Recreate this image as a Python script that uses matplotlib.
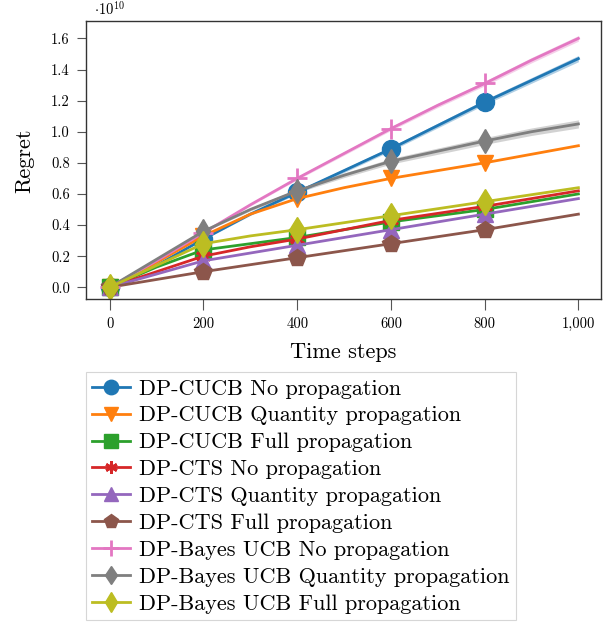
import matplotlib
matplotlib.use('Agg')
import matplotlib.pyplot as plt
import matplotlib.ticker as mticker
import numpy as np

plt.rcParams['font.family'] = 'serif'
plt.rcParams['font.serif'] = ['cmr10', 'DejaVu Serif']
plt.rcParams['mathtext.fontset'] = 'cm'
plt.rcParams['axes.formatter.use_mathtext'] = True

# --- Data (regret in units of 1e10) ---
SCALE = 1e10
steps = [0, 100, 200, 300, 400, 500, 600, 700, 800, 900, 1000]

cucb_no = [0.0, 0.14, 0.31, 0.47, 0.61, 0.75, 0.89, 1.04, 1.19, 1.33, 1.47]
cucb_qty = [0.0, 0.16, 0.33, 0.47, 0.57, 0.64, 0.70, 0.75, 0.80, 0.855, 0.91]
cucb_full = [0.0, 0.13, 0.24, 0.28, 0.32, 0.37, 0.42, 0.46, 0.50, 0.55, 0.60]
cts_no = [0.0, 0.10, 0.20, 0.26, 0.31, 0.37, 0.43, 0.475, 0.52, 0.57, 0.62]
cts_qty = [0.0, 0.085, 0.17, 0.22, 0.27, 0.32, 0.37, 0.42, 0.47, 0.52, 0.57]
cts_full = [0.0, 0.05, 0.10, 0.145, 0.19, 0.235, 0.28, 0.325, 0.37, 0.42, 0.47]
bayes_no = [0.0, 0.17, 0.35, 0.53, 0.70, 0.86, 1.02, 1.17, 1.31, 1.46, 1.60]
bayes_qty = [0.0, 0.18, 0.36, 0.50, 0.62, 0.72, 0.81, 0.875, 0.94, 1.00, 1.05]
bayes_full = [0.0, 0.14, 0.28, 0.33, 0.37, 0.415, 0.46, 0.505, 0.55, 0.595, 0.64]

# half-width of the confidence band (same units)
band_cucb_no = [0.0, 0.0, 0.005, 0.008, 0.01, 0.012, 0.013, 0.015, 0.016, 0.018, 0.02]
band_bayes_no = [0.0, 0.0, 0.005, 0.007, 0.009, 0.011, 0.012, 0.014, 0.015, 0.017, 0.018]
band_bayes_qty = [0.0, 0.0, 0.006, 0.009, 0.012, 0.015, 0.018, 0.02, 0.022, 0.024, 0.026]

labels = [
    "DP-CUCB No propagation",
    "DP-CUCB Quantity propagation",
    "DP-CUCB Full propagation",
    "DP-CTS No propagation",
    "DP-CTS Quantity propagation",
    "DP-CTS Full propagation",
    "DP-Bayes UCB No propagation",
    "DP-Bayes UCB Quantity propagation",
    "DP-Bayes UCB Full propagation",
]
series = [cucb_no, cucb_qty, cucb_full, cts_no, cts_qty, cts_full,
          bayes_no, bayes_qty, bayes_full]
bands = {0: band_cucb_no, 6: band_bayes_no, 7: band_bayes_qty}

colors = ['#1f77b4', '#ff7f0e', '#2ca02c', '#d62728', '#9467bd',
          '#8c564b', '#e377c2', '#7f7f7f', '#bcbd22']
markers = ['o', 'v', 's', (6, 2, 0), '^', 'p', '+', 'd', 'd']
msizes = [13, 12, 12, 11, 12, 13, 14, 12, 13]

fig = plt.figure(figsize=(6.13, 6.26), dpi=100)
ax = fig.add_axes([0.140, 0.522, 0.841, 0.444])

x = np.array(steps)
mark_idx = [0, 2, 4, 6, 8]
for i, (y, lab) in enumerate(zip(series, labels)):
    y = np.array(y) * SCALE
    if i in bands:
        b = np.array(bands[i]) * SCALE
        ax.fill_between(x, y - b, y + b, color=colors[i], alpha=0.35, lw=0)
    ax.plot(x, y, color=colors[i], lw=2, marker=markers[i], markersize=msizes[i],
            markevery=mark_idx, markeredgewidth=2 if i in (3, 6) else 1,
            label=lab)

ax.set_xlim(-51, 1049)
ax.set_ylim(-0.077e10, 1.71e10)
ax.set_xticks([0, 200, 400, 600, 800, 1000])
ax.set_yticks(np.arange(0, 1.61, 0.2) * SCALE)
ax.xaxis.set_major_formatter(mticker.FuncFormatter(lambda v, p: f"{int(v):,}"))
ax.yaxis.set_major_formatter(mticker.FuncFormatter(lambda v, p: f"{v / SCALE:.1f}"))
ax.tick_params(axis='x', labelsize=10.5, length=8, color='#555555', pad=5)
ax.tick_params(axis='y', labelsize=10.5, length=6.5, color='#555555', pad=5)
for sp in ax.spines.values():
    sp.set_color('#333333')
    sp.set_linewidth(1)

ax.text(0.015, 1.012, r'$\cdot 10^{10}$', transform=ax.transAxes, fontsize=10.5,
        ha='left', va='bottom')
ax.set_xlabel('Time steps', fontsize=16, labelpad=8)
ax.set_ylabel('Regret', fontsize=16, labelpad=12)

leg = ax.legend(loc='upper left', bbox_to_anchor=(0.0, -0.263), fontsize=16,
                frameon=True, fancybox=False, edgecolor='#cccccc',
                handlelength=1.7, handletextpad=0.4, labelspacing=0.33,
                borderpad=0.3, borderaxespad=0, markerscale=0.8)
leg.get_frame().set_linewidth(0.8)

fig.savefig('out.png', dpi=100)
